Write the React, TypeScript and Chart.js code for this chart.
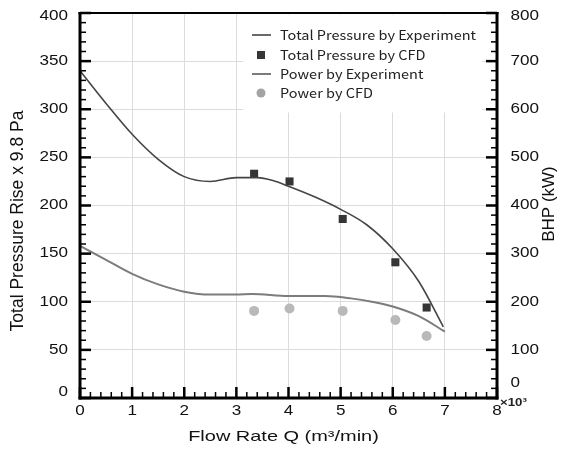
import React, { useEffect, useRef } from "react";
import { Chart, registerables } from "chart.js";

Chart.register(...registerables);

// ---- data ----
const flowExp = [0, 0.5, 1.0, 1.5, 2.0, 2.5, 3.0, 3.4, 3.7, 4.0, 4.5, 5.0, 5.5, 6.0, 6.5, 6.97];
const pressureExp = [340, 306, 274, 248, 230, 225, 229, 229, 226, 220, 209, 196, 180, 155, 121, 74];

const flowPowerExp = [0, 0.5, 1.0, 1.5, 2.0, 2.5, 3.0, 3.3, 4.0, 4.7, 5.2, 5.6, 6.0, 6.5, 7.0];
const powerExp = [316, 287, 258, 236, 221, 215, 215, 216, 212, 212, 207, 200, 190, 170, 138];

const flowCfd = [3.34, 4.02, 5.04, 6.05, 6.65];
const pressureCfd = [233, 225, 186, 141, 94];
const powerCfd = [181, 186, 181, 162, 129];

const seriesLabels = [
  "Total Pressure by Experiment",
  "Total Pressure by CFD",
  "Power by Experiment",
  "Power by CFD",
];

const xTitle = "Flow Rate Q (m³/min)";
const yTitle = "Total Pressure Rise x 9.8 Pa";
const y2Title = "BHP (kW)";
const xMultiplier = "×10³";

// ---- styles ----
const C_PRESS = "#454545";
const C_POWER = "#7c7c7c";
const C_SQ = "#353535";
const C_CIRC = "#b9b9b9";
const TICK_FONT = "14px 'Liberation Sans', Arial, sans-serif";
const SX = 1.22;

function stretchText(
  ctx: CanvasRenderingContext2D,
  text: string,
  x: number,
  y: number,
  align: "left" | "right" | "center",
  font: string,
  sx: number,
  color = "#111"
) {
  ctx.save();
  ctx.font = font;
  ctx.fillStyle = color;
  ctx.textBaseline = "middle";
  ctx.textAlign = "left";
  const w = ctx.measureText(text).width * sx;
  const left = align === "left" ? x : align === "right" ? x - w : x - w / 2;
  ctx.translate(left, y);
  ctx.scale(sx, 1);
  ctx.fillText(text, 0, 0);
  ctx.restore();
}

const customPlugin = {
  id: "customDecor",
  beforeDatasetsDraw(chart: any) {
    const ctx = chart.ctx as CanvasRenderingContext2D;
    const ca = chart.chartArea;
    ctx.save();
    ctx.fillStyle = "#ffffff";
    ctx.fillRect(ca.left + 163, ca.top + 1.5, 239, 98);
    ctx.restore();
  },
  afterDatasetsDraw(chart: any) {
    const ctx = chart.ctx as CanvasRenderingContext2D;
    const ca = chart.chartArea;
    const ds = chart.data.datasets;
    const symX = ca.left + 181;
    const textX = ca.left + 200;
    const rows = [22, 42, 61, 80].map((d) => ca.top + d);
    const legendFont = "13px 'Noto Sans CJK KR', 'Noto Sans', sans-serif";
    ctx.save();
    ctx.font = legendFont;
    const w0 = ctx.measureText(ds[0].label).width;
    const lsx = 196 / w0;
    ctx.restore();
    ds.forEach((d: any, i: number) => {
      const y = rows[i];
      ctx.save();
      if (d.showLine) {
        ctx.strokeStyle = d.borderColor;
        ctx.lineWidth = d.borderWidth;
        ctx.beginPath();
        ctx.moveTo(symX - 9, y);
        ctx.lineTo(symX + 10, y);
        ctx.stroke();
      } else if (d.pointStyle === "rect") {
        ctx.fillStyle = d.backgroundColor;
        ctx.fillRect(symX - 4, y - 4, 8, 8);
      } else {
        ctx.fillStyle = "#a3a3a3";
        ctx.beginPath();
        ctx.arc(symX, y, 4.5, 0, Math.PI * 2);
        ctx.fill();
      }
      ctx.restore();
      stretchText(ctx, d.label, textX, y, "left", legendFont, lsx, "#222");
    });
  },
  afterDraw(chart: any) {
    const ctx = chart.ctx as CanvasRenderingContext2D;
    const ca = chart.chartArea;
    const xs = chart.scales.x;
    const ys = chart.scales.y;
    const y2s = chart.scales.y2;

    // tick labels
    xs.ticks.forEach((t: any) => {
      stretchText(ctx, String(t.value), xs.getPixelForValue(t.value), ca.bottom + 13.5, "center", TICK_FONT, SX);
    });
    ys.ticks.forEach((t: any) => {
      let y = ys.getPixelForValue(t.value);
      y = Math.min(Math.max(y, ca.top + 3), ca.bottom - 5.5);
      stretchText(ctx, String(t.value), ca.left - 12, y, "right", TICK_FONT, SX);
    });
    y2s.ticks.forEach((t: any) => {
      let y = y2s.getPixelForValue(t.value);
      y = Math.min(Math.max(y, ca.top + 3), ca.bottom - 15);
      stretchText(ctx, String(t.value), ca.right + 13.5, y, "left", TICK_FONT, SX);
    });
    stretchText(ctx, xMultiplier, ca.right + 3, ca.bottom + 4.5, "left", "bold 11.5px 'Liberation Sans', Arial, sans-serif", 1.15, "#222");

    // titles
    stretchText(ctx, xTitle, (ca.left + ca.right) / 2 - 5, 437, "center", "15px 'Liberation Sans', Arial, sans-serif", 1.33);

    ctx.save();
    ctx.font = "17.5px 'Liberation Sans', Arial, sans-serif";
    ctx.fillStyle = "#111";
    ctx.textAlign = "center";
    ctx.textBaseline = "middle";
    ctx.translate(18, 221);
    ctx.rotate(-Math.PI / 2);
    ctx.fillText(yTitle, 0, 0);
    ctx.restore();

    ctx.save();
    ctx.font = "17px 'Liberation Sans', Arial, sans-serif";
    ctx.fillStyle = "#111";
    ctx.textAlign = "center";
    ctx.textBaseline = "middle";
    ctx.translate(549, 204);
    ctx.rotate(-Math.PI / 2);
    ctx.fillText(y2Title, 0, 0);
    ctx.restore();

    // inward ticks and frame
    ctx.save();
    ctx.fillStyle = "#000000";
    for (let i = 0; i <= 40; i++) {
      const major = i % 5 === 0;
      const len = major ? 11 : 6;
      const th = major ? 2.5 : 1.5;
      const px = xs.getPixelForValue(i * 0.2);
      ctx.fillRect(px - th / 2, ca.bottom - len, th, len);
      const py = ys.getPixelForValue(i * 10);
      ctx.fillRect(ca.left, py - th / 2, len, th);
      const py2 = y2s.getPixelForValue(i * 20);
      ctx.fillRect(ca.right - len, py2 - th / 2, len, th);
    }
    ctx.fillRect(ca.left - 1.5, ca.top - 1, 3, ca.bottom - ca.top + 2.5);
    ctx.fillRect(ca.right - 1.5, ca.top - 1, 3, ca.bottom - ca.top + 2.5);
    ctx.fillRect(ca.left - 1.5, ca.bottom - 1.5, ca.right - ca.left + 3, 3);
    ctx.fillRect(ca.left - 1.5, ca.top - 1, ca.right - ca.left + 3, 2);
    ctx.restore();
  },
};

export default function App() {
  const ref = useRef<HTMLCanvasElement | null>(null);

  useEffect(() => {
    if (!ref.current) return;
    const chart = new Chart(ref.current, {
      type: "scatter",
      data: {
        datasets: [
          {
            label: seriesLabels[0],
            data: flowExp.map((x, i) => ({ x, y: pressureExp[i] })),
            showLine: true,
            borderColor: C_PRESS,
            backgroundColor: C_PRESS,
            borderWidth: 1.6,
            pointRadius: 0,
            cubicInterpolationMode: "monotone",
            yAxisID: "y",
          },
          {
            label: seriesLabels[1],
            data: flowCfd.map((x, i) => ({ x, y: pressureCfd[i] })),
            showLine: false,
            pointStyle: "rect",
            pointRadius: 5.7,
            borderWidth: 0,
            backgroundColor: C_SQ,
            borderColor: C_SQ,
            yAxisID: "y",
          },
          {
            label: seriesLabels[2],
            data: flowPowerExp.map((x, i) => ({ x, y: powerExp[i] })),
            showLine: true,
            borderColor: C_POWER,
            backgroundColor: C_POWER,
            borderWidth: 2,
            pointRadius: 0,
            cubicInterpolationMode: "monotone",
            yAxisID: "y2",
          },
          {
            label: seriesLabels[3],
            data: flowCfd.map((x, i) => ({ x, y: powerCfd[i] })),
            showLine: false,
            pointStyle: "circle",
            pointRadius: 5,
            borderWidth: 0,
            backgroundColor: C_CIRC,
            borderColor: C_CIRC,
            yAxisID: "y2",
          },
        ] as any,
      },
      options: {
        animation: false,
        responsive: false,
        devicePixelRatio: 1,
        layout: { padding: { top: 13, left: 0, right: 0, bottom: 0 } },
        plugins: { legend: { display: false }, tooltip: { enabled: false } },
        scales: {
          x: {
            type: "linear",
            min: 0,
            max: 8,
            ticks: { stepSize: 1, display: false },
            grid: { color: "#dcdcdc", lineWidth: 1, drawTicks: false },
            border: { display: false },
            afterFit: (s: any) => {
              s.height = 52;
            },
          },
          y: {
            type: "linear",
            position: "left",
            min: 0,
            max: 400,
            ticks: { stepSize: 50, display: false },
            grid: { color: "#dcdcdc", lineWidth: 1, drawTicks: false },
            border: { display: false },
            afterFit: (s: any) => {
              s.width = 80;
            },
          },
          y2: {
            type: "linear",
            position: "right",
            min: 0,
            max: 800,
            ticks: { stepSize: 100, display: false },
            grid: { display: false, drawTicks: false },
            border: { display: false },
            afterFit: (s: any) => {
              s.width = 73;
            },
          },
        },
      },
      plugins: [customPlugin],
    } as any);
    return () => chart.destroy();
  }, []);

  return (
    <div style={{ position: "absolute", left: 0, top: 0, width: 570, height: 450, background: "#fff" }}>
      <canvas ref={ref} width={570} height={450} style={{ width: 570, height: 450, display: "block" }} />
    </div>
  );
}
